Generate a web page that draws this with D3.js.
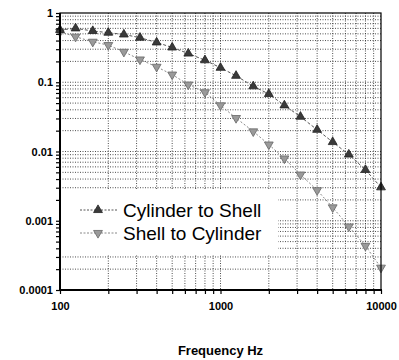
<!DOCTYPE html>
<html>
<head>
<meta charset="utf-8">
<script src="https://cdn.jsdelivr.net/npm/d3@7"></script>
<style>
  body { margin: 0; background: #fff; }
  svg { font-family: "Liberation Sans", Arial, sans-serif; }
</style>
</head>
<body>
<div id="chart"></div>
<script>
// 1/3 octave band centres
const freqs = [100, 125, 160, 200, 250, 315, 400, 500, 630, 800, 1000,
  1250, 1600, 2000, 2500, 3150, 4000, 5000, 6300, 8000, 10000];

const cylToShell = [0.57, 0.60, 0.55, 0.52, 0.49, 0.44, 0.376, 0.318, 0.26, 0.208, 0.162,
  0.124, 0.0875, 0.0677, 0.0464, 0.0318, 0.0206, 0.0137, 0.00905, 0.00543, 0.00304];

const shellToCyl = [0.536, 0.454, 0.384, 0.344, 0.275, 0.213, 0.167, 0.129, 0.0926, 0.0716, 0.0464,
  0.0304, 0.0195, 0.0126, 0.00792, 0.00464, 0.00276, 0.00156, 0.000826, 0.000434, 0.00021];

const xTicks = [100, 1000, 10000];
const xTickLabels = ['100', '1000', '10000'];
const yTicks = [1, 0.1, 0.01, 0.001, 0.0001];
const yTickLabels = ['1', '0.1', '0.01', '0.001', '0.0001'];
const seriesNames = ['Cylinder to Shell', 'Shell to Cylinder'];

const width = 399;
const height = 360;
const margin = { top: 13, right: 18, bottom: 70, left: 60 };

const svg = d3.select('#chart')
  .append('svg')
  .attr('width', width)
  .attr('height', height);

const x = d3.scaleLog()
  .domain([100, 10000])
  .range([margin.left, width - margin.right]);

const y = d3.scaleLog()
  .domain([0.0001, 1])
  .range([height - margin.bottom, margin.top]);

const [x0, x1] = x.range();
const [y0, y1] = y.range();

// minor values 1..9 per decade
const minorX = [];
for (let p = 2; p < 4; p++) for (let m = 1; m < 10; m++) minorX.push(m * Math.pow(10, p));
minorX.push(10000);
const minorY = [];
for (let p = -4; p < 0; p++) for (let m = 1; m < 10; m++) minorY.push(+(m * Math.pow(10, p)).toPrecision(3));
minorY.push(1);

// grid
const grid = svg.append('g')
  .attr('stroke', '#222')
  .attr('stroke-width', 0.8)
  .attr('stroke-dasharray', '1,1.5');

grid.selectAll('line.gx')
  .data(minorX.filter(d => d > 100 && d < 10000))
  .join('line')
  .attr('class', 'gx')
  .attr('x1', d => x(d)).attr('x2', d => x(d))
  .attr('y1', y1).attr('y2', y0);

grid.selectAll('line.gy')
  .data(minorY.filter(d => d > 0.0001 && d < 1))
  .join('line')
  .attr('class', 'gy')
  .attr('x1', x0).attr('x2', x1)
  .attr('y1', d => y(d)).attr('y2', d => y(d));

// series lines and markers
const line = d3.line()
  .x((d, i) => x(freqs[i]))
  .y(d => y(d));

svg.append('path')
  .datum(shellToCyl)
  .attr('fill', 'none')
  .attr('stroke', '#888')
  .attr('stroke-width', 1)
  .attr('stroke-dasharray', '2,2')
  .attr('d', line);

svg.append('path')
  .datum(cylToShell)
  .attr('fill', 'none')
  .attr('stroke', '#555')
  .attr('stroke-width', 1)
  .attr('stroke-dasharray', '3,2')
  .attr('d', line);

const triUp = d3.symbol().type(d3.symbolTriangle).size(34);

function drawMarkers(data, fill, stroke, down) {
  svg.append('g')
    .selectAll('path')
    .data(data)
    .join('path')
    .attr('d', triUp)
    .attr('fill', fill)
    .attr('stroke', stroke)
    .attr('stroke-width', 0.8)
    .attr('transform', (d, i) => `translate(${x(freqs[i])},${y(d)})` + (down ? ' rotate(180)' : ''));
}

drawMarkers(shellToCyl, '#9a9a9a', '#666', true);
drawMarkers(cylToShell, '#3a3a3a', '#222', false);

// legend
const legend = svg.append('g');
legend.append('rect')
  .attr('x', 62).attr('y', 189)
  .attr('width', 216).attr('height', 65)
  .attr('fill', '#fff');

const legendRows = [
  { name: seriesNames[0], fill: '#3a3a3a', stroke: '#222', line: '#555', down: false },
  { name: seriesNames[1], fill: '#9a9a9a', stroke: '#666', line: '#888', down: true }
];

legendRows.forEach((r, i) => {
  const cy = 210 + i * 23;
  legend.append('line')
    .attr('x1', 80).attr('x2', 118)
    .attr('y1', cy).attr('y2', cy)
    .attr('stroke', r.line)
    .attr('stroke-dasharray', '2,1.5');
  legend.append('path')
    .attr('d', triUp)
    .attr('fill', r.fill)
    .attr('stroke', r.stroke)
    .attr('stroke-width', 0.8)
    .attr('transform', `translate(98,${cy})` + (r.down ? ' rotate(180)' : ''));
  legend.append('text')
    .attr('x', 123)
    .attr('y', cy + 7)
    .attr('font-size', 19)
    .attr('fill', '#000')
    .text(r.name);
});

// frame
svg.append('rect')
  .attr('x', x0).attr('y', y1)
  .attr('width', x1 - x0).attr('height', y0 - y1)
  .attr('fill', 'none')
  .attr('stroke', '#000')
  .attr('stroke-width', 1.2);

svg.append('line')
  .attr('x1', x0).attr('x2', x1 + 1)
  .attr('y1', y0).attr('y2', y0)
  .attr('stroke', '#000')
  .attr('stroke-width', 2);
svg.append('line')
  .attr('x1', x0).attr('x2', x0)
  .attr('y1', y1).attr('y2', y0)
  .attr('stroke', '#000')
  .attr('stroke-width', 2);

// axes
const xAxis = d3.axisBottom(x)
  .tickValues(minorX)
  .tickSize(4)
  .tickFormat(d => {
    const k = xTicks.indexOf(d);
    return k >= 0 ? xTickLabels[k] : '';
  });

svg.append('g')
  .attr('transform', `translate(0,${y0})`)
  .call(xAxis)
  .call(g => g.select('.domain').remove())
  .call(g => g.selectAll('line').attr('stroke', '#000').attr('stroke-width', 1.2))
  .call(g => g.selectAll('text')
    .attr('font-size', 11)
    .attr('font-weight', 'bold')
    .attr('font-family', '"Liberation Sans", Arial, sans-serif')
    .attr('fill', '#000')
    .attr('dy', '1.2em'));

const yAxis = d3.axisLeft(y)
  .tickValues(minorY)
  .tickSize(4)
  .tickFormat(d => {
    const k = yTicks.findIndex(t => Math.abs(t - d) / t < 1e-6);
    return k >= 0 ? yTickLabels[k] : '';
  });

svg.append('g')
  .attr('transform', `translate(${x0},0)`)
  .call(yAxis)
  .call(g => g.select('.domain').remove())
  .call(g => g.selectAll('line').attr('stroke', '#000').attr('stroke-width', 1.2))
  .call(g => g.selectAll('text')
    .attr('font-size', 11)
    .attr('font-weight', 'bold')
    .attr('font-family', '"Liberation Sans", Arial, sans-serif')
    .attr('fill', '#000')
    .attr('x', -7));

// axis title
svg.append('text')
  .attr('x', (x0 + x1) / 2)
  .attr('y', 355)
  .attr('text-anchor', 'middle')
  .attr('font-size', 13)
  .attr('font-weight', 'bold')
  .text('Frequency Hz');
</script>
</body>
</html>
